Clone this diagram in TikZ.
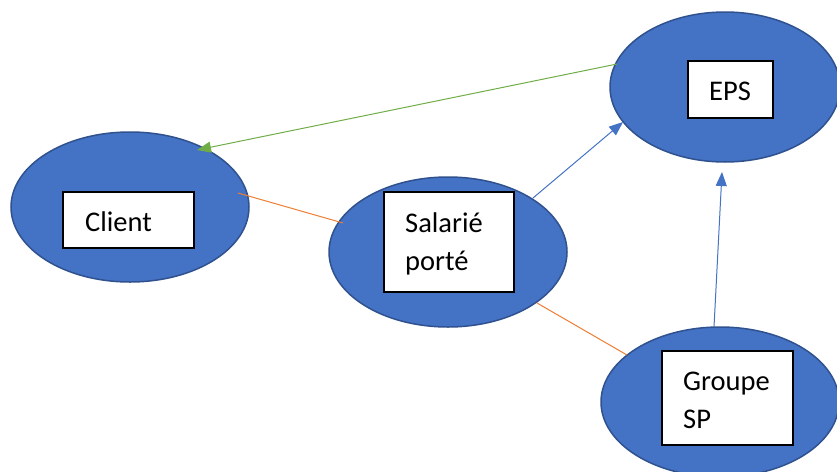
\documentclass[tikz,border=0pt]{standalone}
\usepackage{fontspec}
\setmainfont{Carlito}
\usetikzlibrary{shapes.geometric,arrows.meta,calc}
\definecolor{bubblefill}{HTML}{4472C4}
\definecolor{bubbleedge}{HTML}{2F528F}
\definecolor{linkblue}{HTML}{4472C4}
\definecolor{linkgreen}{HTML}{70AD47}
\definecolor{linkorange}{HTML}{ED7D31}
\begin{document}
\begin{tikzpicture}[x=1pt,y=-1pt,
  bubble/.style={ellipse, draw=bubbleedge, fill=bubblefill, line width=1.5pt,
    inner sep=0pt, minimum width=238pt, minimum height=150pt},
  labelbox/.style={rectangle, draw=black, fill=white, line width=1.5pt, inner sep=0pt},
  labeltext/.style={inner sep=0pt, anchor=base west, align=left,
    font=\fontsize{28.5}{38}\selectfont},
  tip/.style={-{Triangle[length=14pt,width=11pt]}},
  link/.style={line width=1pt}]
\useasboundingbox (0,0) rectangle (837,471);
\clip (0,0) rectangle (837,471);

% the four actors
\node[bubble, minimum width=230pt] (eps) at (725,87) {};
\node[bubble] (client) at (130,207) {};
\node[bubble] (sal) at (448,252) {};
\node[bubble] (grp) at (720,402) {};

% white label boxes
\node[labelbox, minimum width=85pt, minimum height=57pt] (epsbox) at (730.5,89.5) {};
\node[labelbox, minimum width=131pt, minimum height=56pt] (clientbox) at (128.5,220) {};
\node[labelbox, minimum width=130pt, minimum height=100pt] (salbox) at (449,242) {};
\node[labelbox, minimum width=131pt, minimum height=94pt] (grpbox) at (727.5,398) {};

% labels (base anchor sits on the last line)
\node[labeltext] (epstxt) at (709,100) {EPS};
\node[labeltext] (clienttxt) at (85,231) {Client};
\node[labeltext] (saltxt) at (405,270) {Salarié\\porté};
\node[labeltext] (grptxt) at (683,428) {Groupe\\SP};

% connectors
\draw[link, linkgreen, tip] ($(eps)+(-108,-23)$) -- ($(client)+(67,-57)$);
\draw[link, linkorange] ($(client)+(108,-14)$) -- ($(sal)+(-105,-29)$);
\draw[link, linkblue, tip] ($(sal)+(85,-54)$) -- ($(eps)+(-102,35)$);
\draw[link, linkblue, tip] ($(grp)+(-6,-75)$) -- ($(eps)+(-3,85)$);
\draw[link, linkorange] ($(sal)+(89,51)$) -- ($(grp)+(-93,-47)$);
\end{tikzpicture}
\end{document}
